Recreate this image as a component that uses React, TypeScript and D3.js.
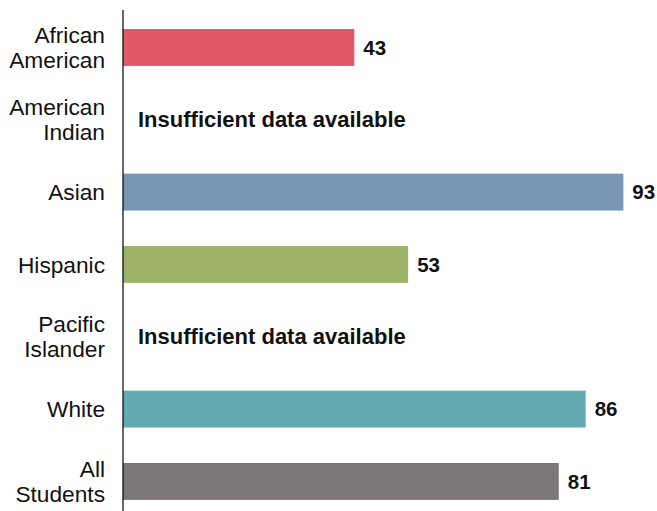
import React from "react";
import * as d3 from "d3";

const categories: string[][] = [
  ["African", "American"],
  ["American", "Indian"],
  ["Asian"],
  ["Hispanic"],
  ["Pacific", "Islander"],
  ["White"],
  ["All", "Students"],
];
const values: (number | null)[] = [43, null, 93, 53, null, 86, 81];
const colors: string[] = ["#e15866", "#d0d0d0", "#7997b4", "#a0b36b", "#d0d0d0", "#63aab2", "#7b7778"];
const missingText = "Insufficient data available";

const W = 657;
const H = 511;

export default function App() {
  const keys = categories.map((c) => c.join(" "));
  const x = d3.scaleLinear().domain([0, 100]).range([123, 661]);
  const y = d3
    .scaleBand<string>()
    .domain(keys)
    .range([11.3, 517.6])
    .paddingInner(0.49)
    .paddingOuter(0.245);
  const font = "'Liberation Sans', Arial, Helvetica, sans-serif";

  return (
    <div style={{ position: "absolute", left: 0, top: 0 }}>
      <svg width={W} height={H} style={{ display: "block", background: "#fff" }}>
        {keys.map((k, i) => {
          const yc = (y(k) as number) + y.bandwidth() / 2;
          const v = values[i];
          const lines = categories[i];
          return (
            <g key={k}>
              {v !== null ? (
                <>
                  <rect
                    x={x(0)}
                    y={y(k)}
                    width={x(v) - x(0)}
                    height={y.bandwidth()}
                    fill={colors[i]}
                  />
                  <text
                    x={x(v) + 9}
                    y={yc}
                    dy="0.35em"
                    fontFamily={font}
                    fontWeight="bold"
                    fontSize={20.5}
                    fill="#111"
                  >
                    {v}
                  </text>
                </>
              ) : (
                <text
                  x={138}
                  y={yc}
                  dy="0.35em"
                  fontFamily={font}
                  fontWeight="bold"
                  fontSize={22}
                  fill="#111"
                >
                  {missingText}
                </text>
              )}
              {lines.map((l, j) => (
                <text
                  key={j}
                  x={105}
                  y={yc + (j - (lines.length - 1) / 2) * 25}
                  dy="0.36em"
                  textAnchor="end"
                  fontFamily={font}
                  fontSize={22.7}
                  fill="#111"
                >
                  {l}
                </text>
              ))}
            </g>
          );
        })}
        <line x1={x(0)} x2={x(0)} y1={10} y2={H} stroke="#000" strokeWidth={1.2} />
      </svg>
    </div>
  );
}
